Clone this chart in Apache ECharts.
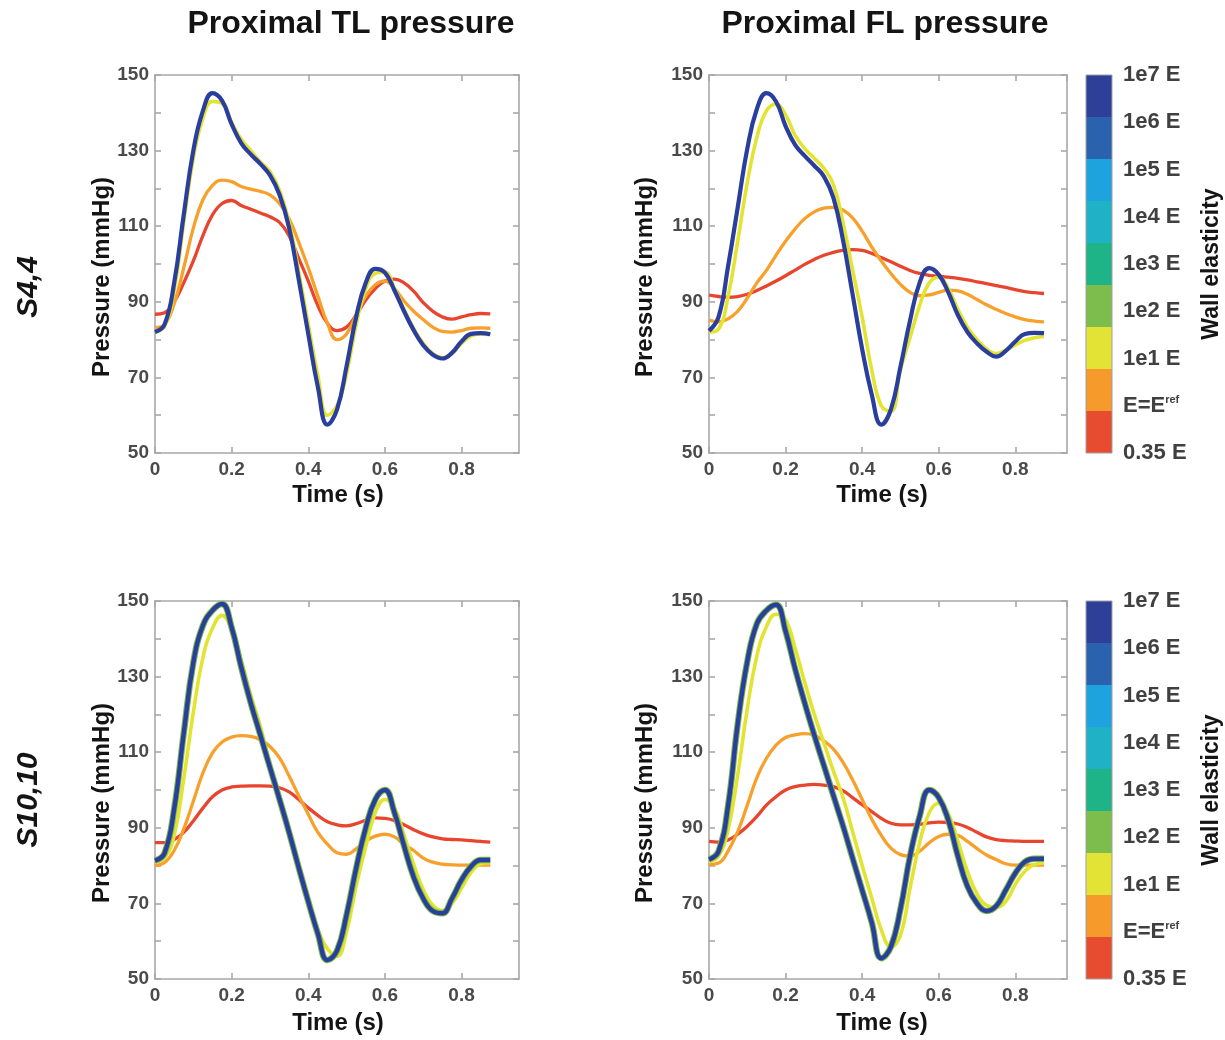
<!DOCTYPE html>
<html>
<head>
<meta charset="utf-8">
<title>Proximal TL / FL pressure for different wall elasticities</title>
<script src="https://cdn.jsdelivr.net/npm/echarts@6.0.0/dist/echarts.min.js"></script>
<style>
    html, body { margin: 0; padding: 0; background: #fff; }
    #chart { width: 1225px; height: 1040px; }
</style>
</head>
<body>
<div id="chart"></div>
<script>
    // shared time samples (s)
    var time = [0, 0.025, 0.05, 0.075, 0.1, 0.125, 0.15, 0.175, 0.2, 0.225, 0.25, 0.275,
                0.3, 0.325, 0.35, 0.375, 0.4, 0.425, 0.45, 0.475, 0.5, 0.525, 0.55, 0.575,
                0.6, 0.625, 0.65, 0.675, 0.7, 0.725, 0.75, 0.775, 0.8, 0.825, 0.85, 0.875];

    // S4,4 - proximal true lumen pressure (mmHg)
    var tlS44_035E = [86.7, 87.1, 90, 95, 100.8, 107.5, 113, 116, 116.8, 115.5, 114.5, 113.5, 112.5, 111, 107.5, 101.5, 95.5, 89, 84.3, 82.4, 83.3, 86.5, 90.5, 93.5, 95.5, 96, 95, 92.8, 89.8, 87.5, 86, 85.4, 86, 86.6, 86.9, 86.8];
    var tlS44_Eref = [83.2, 84, 89.5, 99, 109.5, 117, 120.8, 122.2, 121.8, 120.5, 119.8, 119.2, 118.3, 116, 112, 105.8, 99, 91.5, 84.3, 80, 81.5, 86.5, 91.5, 94.5, 95.5, 93.5, 90.2, 87.5, 85.3, 83.3, 82.2, 82, 82.4, 83, 83.1, 83];
    var tlS44_1e1E = [82, 83.5, 93, 111, 128, 138.5, 143, 142.5, 137.5, 133, 130, 127, 124.5, 119.5, 111, 98, 84, 70.5, 60, 62.5, 71, 84, 93.5, 97.5, 97.8, 93.5, 88, 83, 79, 76.3, 75.2, 76.3, 79, 81, 81.5, 81.3];
    var tlS44_stiff = [82, 84, 95, 113, 130, 140.5, 145.2, 143.2, 137, 132, 129, 126.5, 123.5, 118.3, 109.6, 96, 81.5, 67.5, 57.5, 61.5, 73, 86, 95, 98.7, 97.7, 93, 87.5, 82.5, 78.5, 76, 75, 76.5, 79.5, 81.5, 81.7, 81.4];

    // S4,4 - proximal false lumen pressure (mmHg)
    var flS44_035E = [91.8, 91.4, 91.2, 91.4, 92, 93, 94.2, 95.5, 96.9, 98.4, 99.9, 101.2, 102.3, 103.1, 103.6, 103.8, 103.6, 102.8, 101.7, 100.6, 99.4, 98.3, 97.5, 97, 96.8, 96.5, 96.2, 95.8, 95.3, 94.8, 94.3, 93.8, 93.2, 92.7, 92.4, 92.2];
    var flS44_Eref = [85.2, 84.7, 85.5, 87.5, 91, 95, 98.3, 102.3, 106, 109.3, 112, 113.8, 114.8, 115, 114.3, 112.2, 108.7, 104.5, 100.8, 97.5, 94.6, 92.5, 91.6, 91.8, 92.5, 93.1, 92.9, 92, 90.6, 89.2, 88, 86.9, 86, 85.3, 84.9, 84.7];
    var flS44_1e1E = [82, 82.8, 91.5, 106, 121.5, 133.5, 140.5, 142.3, 139.5, 134, 130.5, 128, 125.3, 121, 111, 98.5, 86, 72, 62.5, 61, 72, 80.5, 89, 95, 96.5, 93.5, 88, 83.3, 80, 77.5, 76.3, 77.2, 78.6, 79.8, 80.5, 80.8];
    var flS44_stiff = [82.3, 86, 99.5, 115, 130.5, 141, 145.2, 143, 136.5, 131.5, 128.6, 126, 123.2, 117.5, 106.3, 92, 77.5, 65.5, 57.5, 61.5, 72.8, 85, 95, 98.9, 97.2, 92.5, 86.5, 82, 79, 76.8, 75.5, 77, 79.5, 81.5, 81.8, 81.7];

    // S10,10 - proximal true lumen pressure (mmHg)
    var tlS1010_035E = [86.1, 86.1, 86.9, 88.8, 91.8, 95.2, 98.2, 100, 100.8, 101, 101.1, 101.1, 101, 100.6, 99.5, 97.5, 95.3, 93.3, 91.6, 90.8, 90.5, 91.1, 92, 92.6, 92.5, 91.9, 90.8, 89.5, 88.4, 87.6, 87.1, 86.9, 86.8, 86.6, 86.4, 86.2];
    var tlS1010_Eref = [80, 80.8, 84, 89.7, 97, 104.5, 109.8, 112.7, 114, 114.4, 114.2, 113.3, 111.5, 108.5, 103.7, 98.5, 93.6, 88.8, 85.7, 83.4, 83, 84.4, 86.5, 87.8, 88.3, 87.6, 85.6, 84, 82, 80.9, 80.4, 80.2, 80.1, 80.1, 80.1, 80.1];
    var tlS1010_1e1E = [81, 82, 88, 103, 120.5, 135, 142.8, 146.2, 142.6, 134.3, 125, 116.8, 106.5, 97, 88.5, 79, 70.5, 63, 58, 56, 62.5, 74.6, 85, 94, 97.5, 95.3, 88, 80.3, 73.7, 69.5, 68.1, 70, 74, 78.2, 80.5, 80.8];
    var tlS1010_stiff = [81.3, 83.3, 95, 115, 133.7, 143.5, 147.5, 149.2, 143, 132.5, 123, 114.5, 106, 97.5, 88.8, 79.5, 70.5, 62, 55, 57.5, 67, 79.3, 90, 97.5, 100, 94, 85.2, 77, 71.3, 68, 67.4, 71.3, 76.2, 79.8, 81.5, 81.5];

    // S10,10 - proximal false lumen pressure (mmHg)
    var flS1010_035E = [86.4, 86.2, 86.8, 88.3, 90.4, 93, 96, 98.2, 100, 100.9, 101.3, 101.5, 101.3, 100.9, 99.8, 98, 96.1, 94.3, 92.5, 91.2, 90.8, 90.8, 90.9, 91.3, 91.5, 91.4, 91, 90.1, 88.8, 87.6, 86.9, 86.6, 86.5, 86.4, 86.4, 86.4];
    var flS1010_Eref = [80.3, 80.7, 83.9, 89, 96, 103.3, 108.4, 111.9, 113.9, 114.6, 114.9, 114.5, 113, 110.8, 107.3, 102.7, 97.5, 92.3, 88, 84.6, 82.9, 82.5, 83.8, 86, 87.7, 88.3, 88, 86.4, 84.5, 82.8, 81.6, 80.5, 80.1, 80.1, 80.1, 80.1];
    var flS1010_1e1E = [81, 82.5, 89.5, 104, 121.5, 135.5, 143.2, 146.5, 145, 137.5, 128.5, 120, 112.5, 105, 98, 89, 80, 71.5, 63, 58.5, 61.5, 74, 86, 94, 96.5, 93.7, 86.5, 78.5, 72.5, 69.5, 69, 70.5, 75, 78.5, 80.3, 80.7];
    var flS1010_stiff = [81.6, 83.8, 96, 117.5, 134, 144, 147.5, 149, 142, 132, 123, 114.5, 106.5, 98.5, 90.5, 82, 73.5, 65, 55.5, 58.5, 68.5, 82.5, 93, 100, 98, 92, 82.5, 74.5, 70, 68, 69.3, 73.5, 78, 81, 81.8, 81.8];

    // colour bar levels, bottom to top
    var elasticityLevels = ['0.35 E', 'E=Eref', '1e1 E', '1e2 E', '1e3 E', '1e4 E', '1e5 E', '1e6 E', '1e7 E'];
    var elasticityColors = ['#e84c30', '#f59a2b', '#e3e335', '#7dbd4c', '#1eb487', '#1fb2c6', '#1ea3df', '#2b62ae', '#2e3f98'];

    var FONT = '"Liberation Sans", Arial, Helvetica, sans-serif';
    var AXIS_GREY = '#a8a8a8';
    var TICK_TEXT = '#4a4a4a';
    var C_RED = '#e8452e', C_ORANGE = '#f7a02b', C_YELLOW = '#e3e432', C_GREEN = '#78bb44', C_BLUE = '#2a3f9d';

    var grids = [], xAxes = [], yAxes = [], series = [];

    function addPanel(left, top, width, xMax, curves) {
        var g = grids.length;
        grids.push({ left: left, top: top, width: width, height: 378, outerBoundsMode: 'none' });
        var xi = xAxes.length, yi = yAxes.length;
        var lineSty = { color: AXIS_GREY, width: 1.6 };

        ['bottom', 'top'].forEach(function (pos) {
            xAxes.push({
                type: 'value', gridIndex: g, position: pos,
                min: 0, max: xMax, interval: 0.2,
                axisLine: { show: true, onZero: false, lineStyle: lineSty },
                axisTick: { show: true, inside: true, length: 6, lineStyle: lineSty },
                axisLabel: {
                    show: pos === 'bottom', showMaxLabel: false,
                    fontFamily: FONT, fontSize: 19, fontWeight: 'bold', color: TICK_TEXT, margin: 7
                },
                splitLine: { show: false }
            });
        });
        ['left', 'right'].forEach(function (pos) {
            yAxes.push({
                type: 'value', gridIndex: g, position: pos,
                min: 50, max: 150, interval: 10,
                axisLine: { show: true, onZero: false, lineStyle: lineSty },
                axisTick: { show: true, inside: true, length: 6, lineStyle: lineSty },
                axisLabel: {
                    show: pos === 'left', fontFamily: FONT, fontSize: 19, fontWeight: 'bold',
                    color: TICK_TEXT, margin: 6,
                    formatter: function (v) { return (v - 50) % 20 === 0 ? String(v) : ''; }
                },
                splitLine: { show: false }
            });
        });

        curves.forEach(function (c) {
            series.push({
                type: 'line', xAxisIndex: xi, yAxisIndex: yi,
                data: time.map(function (t, i) { return [t, c.values[i]]; }),
                showSymbol: false, smooth: 0.45, silent: true,
                lineStyle: { color: c.color, width: c.width }
            });
        });
    }

    function addColorbar(top) {
        var g = grids.length;
        grids.push({
            left: 1086, top: top, width: 26, height: 378, outerBoundsMode: 'none',
            show: true, borderColor: '#a0a0a0', borderWidth: 1, z: 5
        });
        var xi = xAxes.length, yi = yAxes.length;
        xAxes.push({ type: 'value', gridIndex: g, min: 0, max: 1, show: false });
        yAxes.push({ type: 'category', gridIndex: g, data: elasticityLevels, show: false });
        yAxes.push({
            type: 'value', gridIndex: g, position: 'right', min: 0, max: 8, interval: 1,
            axisLine: { show: false }, axisTick: { show: false }, splitLine: { show: false },
            axisLabel: {
                margin: 11,
                formatter: function (v) {
                    var name = elasticityLevels[v];
                    return name === 'E=Eref' ? '{t|E=E}{s|ref}' : '{t|' + name + '}';
                },
                rich: {
                    t: { fontFamily: FONT, fontSize: 22, fontWeight: 'bold', color: '#404040' },
                    s: { fontFamily: FONT, fontSize: 11, fontWeight: 'bold', color: '#404040', verticalAlign: 'top' }
                }
            }
        });
        series.push({
            type: 'bar', xAxisIndex: xi, yAxisIndex: yi, barWidth: '100%', silent: true,
            data: elasticityColors.map(function (c) { return { value: 1, itemStyle: { color: c } }; })
        });
    }

    function curveSet(r, o, y, stiff, halo) {
        var list = [
            { values: r, color: C_RED, width: 3.3 },
            { values: o, color: C_ORANGE, width: 3.3 },
            { values: y, color: C_YELLOW, width: 3.6 }
        ];
        if (halo) list.push({ values: stiff, color: C_GREEN, width: 6.4 });
        list.push({ values: stiff, color: C_BLUE, width: halo ? 4.4 : 4.2 });
        return list;
    }

    addPanel(155, 75, 364, 0.95, curveSet(tlS44_035E, tlS44_Eref, tlS44_1e1E, tlS44_stiff, false));
    addPanel(709, 75, 358, 0.935, curveSet(flS44_035E, flS44_Eref, flS44_1e1E, flS44_stiff, false));
    addPanel(155, 601, 364, 0.95, curveSet(tlS1010_035E, tlS1010_Eref, tlS1010_1e1E, tlS1010_stiff, true));
    addPanel(709, 601, 358, 0.935, curveSet(flS1010_035E, flS1010_Eref, flS1010_1e1E, flS1010_stiff, true));
    addColorbar(75);
    addColorbar(601);

    function label(text, x, y, size, opts) {
        opts = opts || {};
        return {
            type: 'text', x: x, y: y, rotation: opts.rot || 0, z: 10, silent: true,
            style: {
                text: text, fontFamily: FONT, fontSize: size, fontWeight: 'bold',
                fontStyle: opts.italic ? 'italic' : 'normal',
                fill: '#141414', align: 'center', verticalAlign: 'middle'
            }
        };
    }
    var UP = Math.PI / 2;
    var graphics = [
        label('Proximal TL pressure', 351, 24, 32),
        label('Proximal FL pressure', 885, 24, 32),
        label('S4,4', 29, 287, 30, { rot: UP, italic: true }),
        label('S10,10', 29, 800, 30, { rot: UP, italic: true }),
        label('Pressure (mmHg)', 102, 277, 24, { rot: UP }),
        label('Pressure (mmHg)', 645, 277, 24, { rot: UP }),
        label('Pressure (mmHg)', 102, 803, 24, { rot: UP }),
        label('Pressure (mmHg)', 645, 803, 24, { rot: UP }),
        label('Time (s)', 338, 495, 24),
        label('Time (s)', 882, 495, 24),
        label('Time (s)', 338, 1023, 24),
        label('Time (s)', 882, 1023, 24),
        label('Wall elasticity', 1212, 264, 23, { rot: UP }),
        label('Wall elasticity', 1212, 790, 23, { rot: UP })
    ];

    var myChart = echarts.init(document.getElementById('chart'), null, { renderer: 'canvas' });
    myChart.setOption({
        animation: false,
        backgroundColor: '#fff',
        grid: grids,
        xAxis: xAxes,
        yAxis: yAxes,
        series: series,
        graphic: graphics
    });
</script>
</body>
</html>
